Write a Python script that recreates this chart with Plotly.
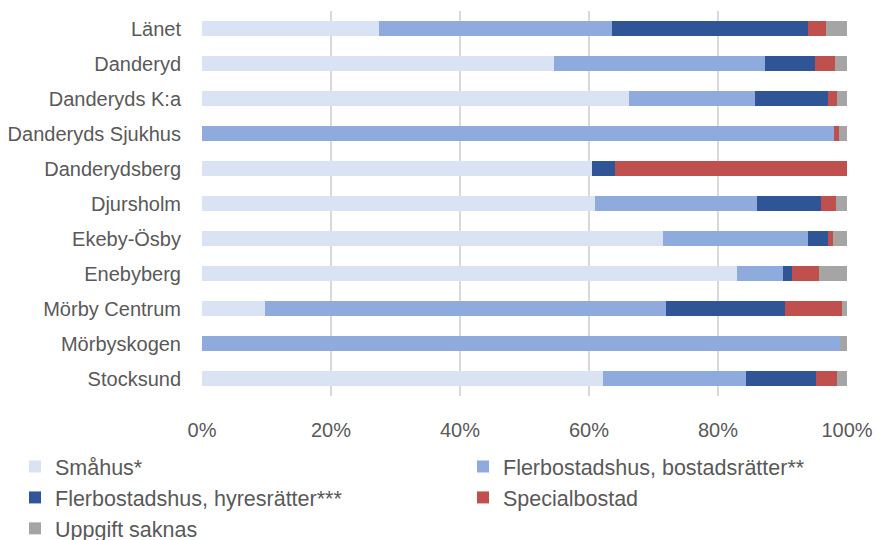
import plotly.graph_objects as go

categories = ["Länet", "Danderyd", "Danderyds K:a", "Danderyds Sjukhus", "Danderydsberg",
              "Djursholm", "Ekeby-Ösby", "Enebyberg", "Mörby Centrum", "Mörbyskogen", "Stocksund"]

smahus = [27.4, 54.6, 66.2, 0.0, 60.4, 61.0, 71.4, 83.0, 9.8, 0.0, 62.2]
bostadsratter = [36.2, 32.7, 19.6, 98.0, 0.0, 25.1, 22.5, 7.0, 62.1, 98.9, 22.2]
hyresratter = [30.3, 7.8, 11.2, 0.0, 3.7, 9.8, 3.1, 1.5, 18.5, 0.0, 10.8]
specialbostad = [2.8, 3.0, 1.5, 0.8, 35.9, 2.4, 0.8, 4.1, 8.9, 0.0, 3.3]
uppgift_saknas = [3.3, 1.9, 1.5, 1.2, 0.0, 1.7, 2.2, 4.4, 0.7, 1.1, 1.5]

series = [
    ("Småhus*", smahus, "#dae3f3", "legend"),
    ("Flerbostadshus, bostadsrätter**", bostadsratter, "#8faadc", "legend2"),
    ("Flerbostadshus, hyresrätter***", hyresratter, "#2f5597", "legend"),
    ("Specialbostad", specialbostad, "#c0504d", "legend2"),
    ("Uppgift saknas", uppgift_saknas, "#a5a5a5", "legend"),
]

tick_vals = [0, 20, 40, 60, 80, 100]
tick_text = ["0%", "20%", "40%", "60%", "80%", "100%"]

font_family = "Liberation Sans, Arial, sans-serif"
text_color = "#595959"
fs = 20
lfs = 21.5

fig = go.Figure()
for name, vals, color, lg in series:
    fig.add_trace(go.Bar(
        name=name, y=categories, x=vals, orientation="h",
        marker=dict(color=color, line=dict(width=0)),
        legend=lg,
    ))

legend_common = dict(
    orientation="v", xref="container", yref="container",
    xanchor="left", yanchor="top",
    font=dict(size=lfs, color=text_color),
    itemwidth=30, tracegroupgap=0, traceorder="normal",
    bgcolor="rgba(0,0,0,0)",
)

fig.update_layout(
    barmode="stack",
    bargap=0.58,
    width=878, height=540,
    margin=dict(l=202, r=31, t=11, b=144, autoexpand=False),
    plot_bgcolor="white", paper_bgcolor="white",
    font=dict(family=font_family, size=fs, color=text_color),
    xaxis=dict(
        range=[0, 100], tickvals=tick_vals, ticktext=tick_text,
        showgrid=True, gridcolor="#d9d9d9", gridwidth=1.5,
        zeroline=False, showline=False,
        ticks="outside", ticklen=16, tickcolor="rgba(0,0,0,0)",
        tickfont=dict(size=fs, color=text_color),
        fixedrange=True,
    ),
    yaxis=dict(
        autorange="reversed", showgrid=False, zeroline=False, showline=False,
        ticks="outside", ticklen=16, tickcolor="rgba(0,0,0,0)",
        tickfont=dict(size=fs, color=text_color),
        fixedrange=True,
    ),
    legend=dict(legend_common, x=15 / 878, y=1 - 446 / 540),
    legend2=dict(legend_common, x=463 / 878, y=1 - 446 / 540),
    showlegend=True,
)

fig.write_html("out.html", config={"displayModeBar": False},
               post_script="document.body.style.margin='0';")
